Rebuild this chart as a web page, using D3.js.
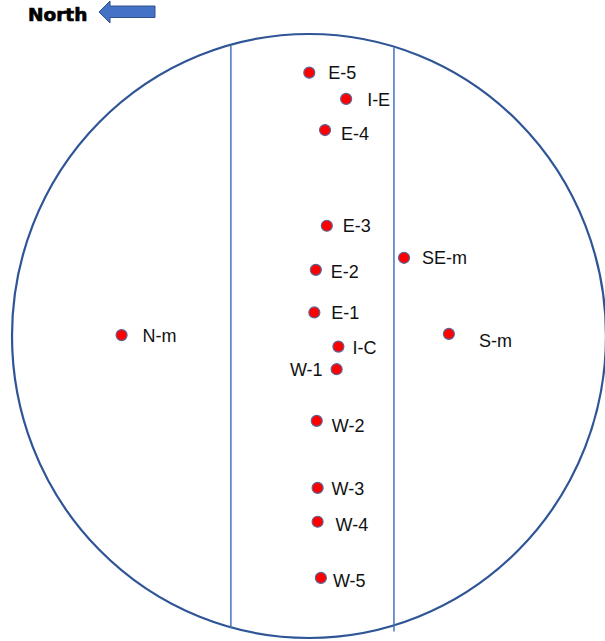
<!DOCTYPE html>
<html>
<head>
<meta charset="utf-8">
<script src="https://cdn.jsdelivr.net/npm/d3@7"></script>
<style>
  html, body { margin: 0; padding: 0; background: #fff; }
  svg { display: block; }
</style>
</head>
<body>
<svg id="chart" width="605" height="641"></svg>
<script>
// ---- Data (normalized units: circle spans -100..100 on both axes, +y = up) ----
const siteNames = ["E-5", "I-E", "E-4", "E-3", "SE-m", "E-2", "E-1", "N-m", "S-m", "I-C", "W-1", "W-2", "W-3", "W-4", "W-5"];
const siteX     = [0.1, 12.5, 5.4, 6.0, 32.0, 2.3, 1.8, -63.1, 47.1, 9.9, 9.3, 2.6, 2.9, 2.9, 4.0];
const siteY     = [87.2, 78.5, 68.2, 36.5, 25.9, 21.9, 7.8, 0.3, 0.7, -3.5, -11.0, -28.1, -50.3, -61.5, -80.1];
const labelSide = ["right", "right", "right", "right", "right", "right", "right", "right", "right", "right", "left", "right", "right", "right", "right"];
const zoneBounds = [-26.3, 28.6];   // vertical boundary lines
const northLabel = "North";

// ---- Layout / style (not data) ----
const labelNudgeX = [19, 21, 16, 16, 18, 15, 17, 21, 30, 14, -14, 15, 14, 18, 12];
const labelNudgeY = [6, 7, 10, 6, 6, 8, 7, 7, 13, 7, 7, 11, 7, 9, 9];

const svg = d3.select("#chart");
const x = d3.scaleLinear().domain([-100, 100]).range([12, 606]);
const y = d3.scaleLinear().domain([-100, 100]).range([638, 34]);

// Circle (ellipse through scales)
const cx = x(0), cy = y(0);
const rx = x(100) - x(0), ry = y(-100) - y(0);
svg.append("ellipse")
  .attr("cx", cx).attr("cy", cy).attr("rx", rx).attr("ry", ry)
  .attr("fill", "none").attr("stroke", "#2F5597").attr("stroke-width", 2.2);

// Boundary lines clipped to circle
svg.selectAll("line.zone").data(zoneBounds).join("line")
  .attr("class", "zone")
  .attr("x1", d => x(d)).attr("x2", d => x(d))
  .attr("y1", d => y(100 * Math.sqrt(1 - (d / 100) ** 2)) + 1)
  .attr("y2", (d, i) => y(-100 * Math.sqrt(1 - (d / 100) ** 2)) + (i === 1 ? 6 : 1))
  .attr("stroke", "#4472C4").attr("stroke-width", 1.5);

// Points
const pts = siteNames.map((n, i) => ({ n, x: siteX[i], y: siteY[i], side: labelSide[i], dx: labelNudgeX[i], dy: labelNudgeY[i] }));
svg.selectAll("circle.pt").data(pts).join("circle")
  .attr("class", "pt")
  .attr("cx", d => x(d.x)).attr("cy", d => y(d.y)).attr("r", 5.5)
  .attr("fill", "#FF0000").attr("stroke", "#5B6596").attr("stroke-width", 1.2);

svg.selectAll("text.lbl").data(pts).join("text")
  .attr("class", "lbl")
  .attr("x", d => x(d.x) + d.dx).attr("y", d => y(d.y) + d.dy)
  .attr("text-anchor", d => d.side === "left" ? "end" : "start")
  .attr("font-family", "Liberation Sans, Arial, sans-serif")
  .attr("font-size", 18)
  .attr("fill", "#111")
  .text(d => d.n);

// North label + arrow
svg.append("text")
  .attr("x", 28).attr("y", 20.7)
  .attr("font-family", "DejaVu Sans, sans-serif").attr("font-weight", "bold")
  .attr("font-size", 18.5).attr("fill", "#000")
  .attr("stroke", "#000").attr("stroke-width", 0.7)
  .text(northLabel);

const arrow = d3.path();
arrow.moveTo(99, 12);
arrow.lineTo(110, 1);
arrow.lineTo(110, 6);
arrow.lineTo(155, 6);
arrow.lineTo(155, 17.5);
arrow.lineTo(110, 17.5);
arrow.lineTo(110, 23);
arrow.closePath();
svg.append("path").attr("d", arrow.toString())
  .attr("fill", "#4472C4").attr("stroke", "#2F528F").attr("stroke-width", 1);
</script>
</body>
</html>
